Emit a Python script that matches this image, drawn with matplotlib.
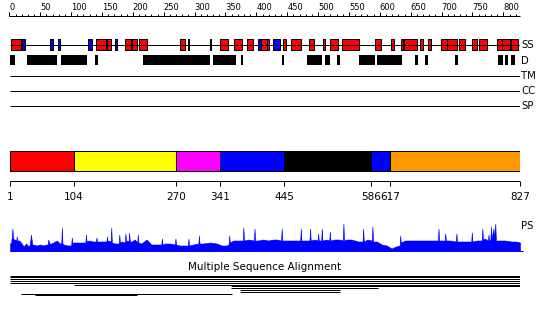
import matplotlib
matplotlib.use("Agg")
import matplotlib.pyplot as plt
import numpy as np

# =====================================================================
# DATA (residue numbers)
# =====================================================================
SEQ_LEN = 827

ruler_labels = [0, 50, 100, 150, 200, 250, 300, 350, 400, 450, 500, 550, 600, 650, 700, 750, 800]

# secondary structure: helices (red) and strands (blue)
helix = [(3, 19), (140, 156), (158, 165), (187, 197), (199, 207), (210, 223),
         (277, 284), (289, 291), (325, 327), (341, 354), (364, 377), (385, 395),
         (408, 417), (418, 421), (443, 448), (456, 472), (485, 493), (508, 511),
         (519, 532), (539, 566), (592, 602), (618, 623), (634, 637), (639, 660),
         (665, 670), (678, 683), (699, 709), (709, 725), (728, 738), (749, 757),
         (761, 774), (790, 798), (798, 811), (812, 824)]
strand = [(20, 25), (66, 71), (79, 82), (127, 134), (171, 174), (403, 408), (427, 438)]

# disordered regions
disorder = [(1, 9), (29, 77), (84, 126), (139, 144), (216, 325), (330, 367),
            (375, 378), (442, 445), (482, 506), (511, 519), (531, 535), (566, 592),
            (595, 636), (657, 662), (673, 678), (722, 727), (791, 799), (803, 808),
            (813, 819)]

# domain boundaries
domain_starts = [1, 104, 270, 341, 445, 586, 617]
domain_ends = [104, 270, 341, 445, 586, 617, 827]
domain_colors = ["#ff0000", "#ffff00", "#ff00ff", "#0000ff", "#000000", "#0000ff", "#ff9900"]
domain_ticks = [1, 104, 270, 341, 445, 586, 617, 827]

# PS profile (residue, score)
ps_pos = [1, 3, 5, 6, 8, 11, 12, 13, 16, 20, 23, 27, 31, 33, 35, 37, 39, 44, 50, 55,
          60, 62, 63, 65, 68, 74, 77, 82, 84, 85, 86, 88, 95, 100, 101, 102, 105, 114,
          121, 123, 124, 125, 129, 136, 140, 141, 142, 147, 152, 157, 158, 159, 161,
          164, 165, 166, 171, 177, 178, 179, 182, 187, 188, 189, 191, 193, 194, 195,
          198, 203, 207, 208, 209, 214, 222, 230, 239, 246, 247, 248, 252, 260, 268,
          269, 270, 276, 284, 289, 290, 291, 298, 306, 307, 308, 314, 325, 336, 344,
          352, 355, 356, 357, 363, 371, 378, 379, 380, 387, 396, 397, 398, 403, 411,
          419, 428, 433, 440, 441, 442, 449, 460, 468, 471, 472, 473, 479, 486, 487,
          488, 494, 499, 500, 501, 505, 506, 507, 514, 518, 519, 520, 527, 535, 540,
          541, 542, 546, 554, 565, 572, 573, 574, 580, 587, 588, 589, 595, 603, 611,
          619, 626, 632, 633, 634, 641, 652, 662, 673, 684, 694, 695, 696, 701, 705,
          706, 707, 714, 723, 724, 725, 732, 741, 748, 749, 750, 757, 765, 766, 767,
          770, 775, 776, 777, 779, 780, 781, 784, 785, 787, 788, 792, 803, 813, 821, 827]
ps_val = [7, 8, 22, 12, 11, 10, 14, 10, 10, 7, 4, 7, 4, 6, 16, 6, 6, 5, 6, 5,
          6, 6, 11, 7, 7, 9, 10, 7, 7, 23, 7, 6, 5, 5, 13, 8, 8, 8,
          8, 8, 16, 9, 10, 9, 9, 13, 9, 9, 9, 9, 14, 9, 10,
          9, 23, 8, 7, 7, 16, 8, 9, 8, 17, 9, 10, 9, 18, 9,
          9, 11, 8, 16, 8, 7, 11, 6, 6, 6, 12, 6, 7, 7, 6,
          12, 6, 5, 5, 5, 12, 5, 6, 7, 15, 7, 7, 8, 7, 5,
          5, 6, 15, 8, 10, 10, 10, 23, 10, 11, 10, 22, 10, 10, 11,
          10, 11, 11, 10, 22, 10, 10, 10, 10, 10, 22, 10, 10, 10, 22,
          10, 11, 10, 17, 10, 10, 22, 10, 11, 10, 19, 10, 11, 11, 10,
          27, 10, 11, 11, 9, 9, 22, 9, 11, 10, 24, 9, 9, 6, 5,
          2, 4, 5, 15, 8, 10, 10, 10, 10, 10, 10, 22, 10, 10, 10,
          17, 10, 10, 9, 17, 9, 9, 9, 9, 18, 9, 10, 10, 22, 11,
          12, 10, 16, 10, 11, 24, 12, 22, 12, 27, 10, 10, 10, 9, 9, 8]

# multiple sequence alignment hits (start, end)
msa_hits = [(1, 827), (1, 827), (1, 827), (1, 827), (1, 827), (105, 827),
            (359, 827), (359, 597), (374, 535), (374, 535), (19, 361), (41, 207)]

# =====================================================================
# LAYOUT (pixel rows, top = 0)
# =====================================================================
W, H = 550, 317
X0, X1 = 10, 520
LW = 0.72  # 1 px

fig = plt.figure(figsize=(W / 100, H / 100), dpi=100)
ax = fig.add_axes([X0 / W, 0, (X1 - X0) / W, 1])
ax.set_xlim(1, SEQ_LEN)
ax.set_ylim(H, 0)
ax.axis("off")

label_x = SEQ_LEN + 1.5
lab_kw = dict(fontsize=7.3, ha="left", va="baseline", clip_on=False)

# ---- top ruler ----
RULER_Y = 15.5
ax.hlines(RULER_Y, 0, SEQ_LEN, color="black", lw=LW, clip_on=False)
minor = np.arange(0, SEQ_LEN, 10)
ax.vlines(minor, RULER_Y - 2, RULER_Y, color="black", lw=LW, clip_on=False)
ax.vlines(ruler_labels, RULER_Y - 4, RULER_Y, color="black", lw=LW, clip_on=False)
for v in ruler_labels:
    ax.text(v, 10.3, str(v), fontsize=6, ha="left", va="baseline", clip_on=False)

# ---- SS track ----
SS_Y = 44.5
ax.hlines(SS_Y, 1, SEQ_LEN, color="black", lw=LW)
ax.broken_barh([(s, e - s) for s, e in helix], (SS_Y - 5.5, 11),
               facecolors="#ff0000", edgecolors="black", lw=LW)
ax.broken_barh([(s, e - s) for s, e in strand], (SS_Y - 5.5, 11),
               facecolors="#0000ff", edgecolors="black", lw=LW)
ax.text(label_x, SS_Y + 3.4, "SS", **lab_kw)

# ---- disorder track ----
D_Y = 60
ax.broken_barh([(s, e - s) for s, e in disorder], (D_Y - 5, 10),
               facecolors="black", edgecolors="none")
ax.text(label_x, D_Y + 4, "D", **lab_kw)

# ---- TM / CC / SP (empty) ----
for name, y in [("TM", 75.5), ("CC", 90.5), ("SP", 105.5)]:
    ax.hlines(y, 1, SEQ_LEN, color="black", lw=LW)
    ax.text(label_x, y + 3.6, name, **lab_kw)

# ---- domain bar ----
ax.broken_barh([(s, e - s) for s, e in zip(domain_starts, domain_ends)], (150.5, 20),
               facecolors=domain_colors, edgecolors="black", lw=LW)
AX_Y = 181
ax.hlines(AX_Y, 1, SEQ_LEN, color="black", lw=LW)
ax.vlines(domain_ticks, AX_Y, AX_Y + 4.5, color="black", lw=LW, clip_on=False)
for t in domain_ticks:
    ax.text(t, 200, str(t), fontsize=7.5, ha="center", va="baseline", clip_on=False)

# ---- PS profile ----
PS_BASE = 250.5
ps_ax = fig.add_axes([X0 / W, (H - PS_BASE) / H, (X1 - X0) / W, 30 / H])
ps_ax.set_xlim(1, SEQ_LEN)
ps_ax.set_ylim(0, 30)
ps_ax.axis("off")
ps_ax.fill_between(ps_pos, 0, ps_val, color="#0000ff", lw=0.4)
ps_ax.hlines(0, 1, SEQ_LEN + 5, color="#0000ff", lw=LW, clip_on=False)
ax.text(label_x, 229, "PS", **lab_kw)

# ---- multiple sequence alignment ----
ax.text((1 + SEQ_LEN) / 2, 270, "Multiple Sequence Alignment", fontsize=7.5,
        ha="center", va="baseline")
for i, (s, e) in enumerate(msa_hits):
    y = 275.5 + i * 1.8
    ax.hlines(y, s, e, color="black", lw=LW)

fig.savefig("out.png", dpi=100, facecolor="white")
